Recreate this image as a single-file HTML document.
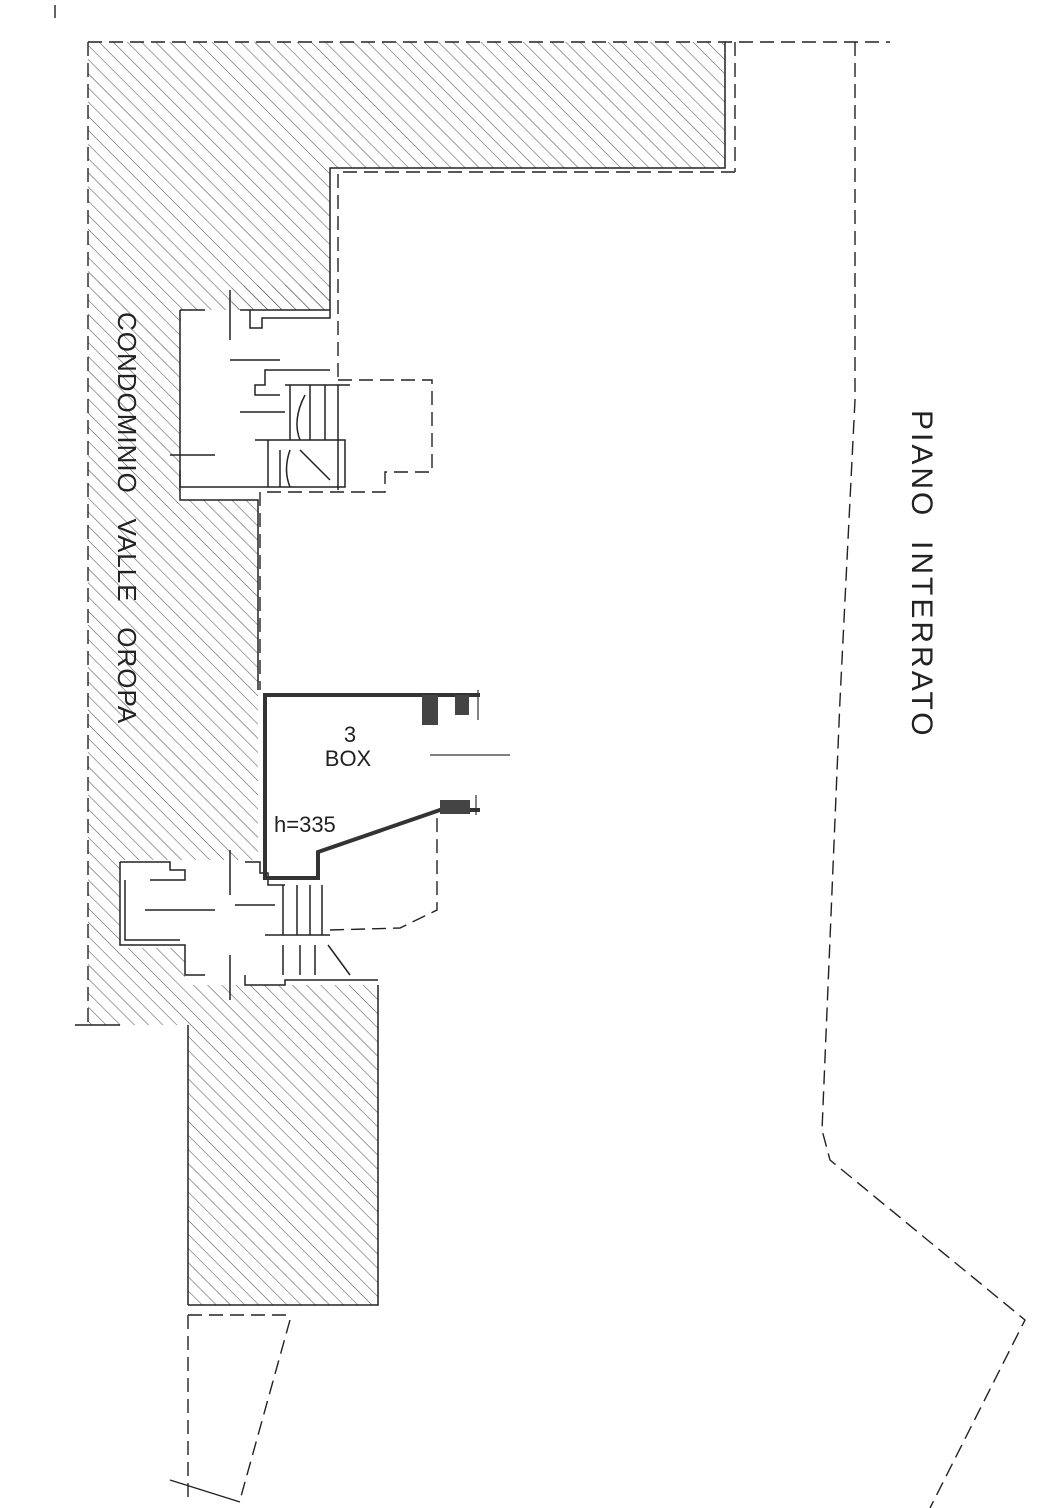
<!DOCTYPE html>
<html><head><meta charset="utf-8"><style>html,body{margin:0;padding:0;background:#fff}svg{display:block}</style></head><body>
<svg width="1064" height="1508" viewBox="0 0 1064 1508" xmlns="http://www.w3.org/2000/svg">
<defs>
<pattern id="h" width="10" height="10" patternUnits="userSpaceOnUse" patternTransform="rotate(-45)">
<line x1="0" y1="0" x2="0" y2="10" stroke="#555" stroke-width="1.1"/>
</pattern>
</defs>
<g fill="url(#h)" stroke="none">
<polygon points="88,42 725,42 725,168 330,168 330,310 180,310 180,500 258,500 258,860 120,860 120,1025 88,1025"/>
<polygon points="120,948 185,948 185,985 378,985 378,1305 188,1305 188,1025 120,1025"/>
<polygon points="232,285 330,285 330,310 232,310"/>
</g>
<g fill="none" stroke="#222" stroke-width="1.5">
<polyline points="725,42 725,168 330,168 330,310"/>
<polyline points="378,985 378,1305 188,1305"/>
<line x1="188" y1="1305" x2="188" y2="1025"/>
<polyline points="180,310 180,500 258,500 258,690"/>
<polyline points="180,310 205,310"/>
<polyline points="240,310 330,310 330,318 262,318 262,328 250,328 250,310"/>
<line x1="230" y1="290" x2="230" y2="340"/>
<line x1="230" y1="360" x2="280" y2="360"/>
<polyline points="330,370 265,370 265,385 255,385 255,395 280,395"/>
<polyline points="285,385 350,385"/>
<line x1="290" y1="385" x2="290" y2="440"/>
<line x1="310" y1="385" x2="310" y2="440"/>
<line x1="325" y1="385" x2="325" y2="440"/>
<line x1="338" y1="385" x2="338" y2="490"/>
<line x1="240" y1="412" x2="285" y2="412"/>
<polyline points="255,440 345,440 345,487 270,487"/>
<line x1="268" y1="440" x2="268" y2="487"/>
<line x1="280" y1="450" x2="280" y2="487"/>
<line x1="170" y1="455" x2="215" y2="455"/>
<polyline points="180,470 180,487 270,487"/>
<path d="M305,395 Q292,420 300,440 M290,450 Q283,470 290,487"/>
<line x1="300" y1="450" x2="330" y2="480"/>
<polyline points="120,862 170,862 170,870 185,870 185,880 150,880"/>
<polyline points="120,862 120,945 185,945 185,975 205,975"/>
<line x1="145" y1="910" x2="215" y2="910"/>
<line x1="235" y1="905" x2="275" y2="905"/>
<line x1="230" y1="850" x2="230" y2="895"/>
<line x1="230" y1="955" x2="230" y2="1000"/>
<polyline points="125,880 125,940 180,940"/>
<polyline points="245,862 260,862 260,873 268,873 268,885 285,885"/>
<line x1="283" y1="885" x2="283" y2="935"/>
<line x1="297" y1="885" x2="297" y2="935"/>
<line x1="310" y1="885" x2="310" y2="935"/>
<line x1="322" y1="885" x2="322" y2="935"/>
<polyline points="265,935 330,935"/>
<line x1="283" y1="945" x2="283" y2="975"/>
<line x1="300" y1="945" x2="300" y2="975"/>
<line x1="315" y1="945" x2="315" y2="975"/>
<polyline points="245,975 245,985 285,985 285,980 378,980"/>
<line x1="328" y1="945" x2="350" y2="975"/>
</g>
<g fill="none" stroke="#333" stroke-width="4">
<polyline points="480,695 265,695 265,878 318,878 318,852 440,810 480,810"/>
</g>
<rect x="422" y="695" width="16" height="30" fill="#444"/>
<rect x="455" y="695" width="14" height="20" fill="#444"/>
<rect x="440" y="800" width="30" height="14" fill="#444"/>
<line x1="430" y1="755" x2="510" y2="755" stroke="#333" stroke-width="1.2"/>
<line x1="478" y1="690" x2="478" y2="720" stroke="#333" stroke-width="1.2"/>
<line x1="476" y1="795" x2="476" y2="815" stroke="#333" stroke-width="1.2"/>
<g fill="none" stroke="#222" stroke-width="1.4" stroke-dasharray="14,7">
<line x1="88" y1="42" x2="890" y2="42"/>
<line x1="88" y1="42" x2="88" y2="1025"/>
<line x1="735" y1="42" x2="735" y2="172"/>
<polyline points="735,172 338,172 338,380"/>
<polyline points="338,380 432,380 432,472 385,472 385,492 260,492 260,690"/>
<polyline points="330,930 400,928 437,910 437,815"/>
<polyline points="855,42 855,400 840,700 822,1130 830,1160 1025,1320 930,1508"/>
<line x1="188" y1="1315" x2="188" y2="1500"/>
<line x1="290" y1="1320" x2="240" y2="1500"/>
<line x1="188" y1="1315" x2="290" y2="1315"/>
</g>
<line x1="75" y1="1025" x2="120" y2="1025" stroke="#222" stroke-width="1.4"/>
<line x1="170" y1="1480" x2="240" y2="1502" stroke="#222" stroke-width="1.4"/>
<line x1="55" y1="5" x2="55" y2="18" stroke="#222" stroke-width="1.4"/>
<g font-family="Liberation Sans, sans-serif" fill="#222">
<text x="0" y="0" font-size="26" transform="translate(118,312) rotate(90)" letter-spacing="1">CONDOMINIO &#160; VALLE &#160; OROPA</text>
<text x="0" y="0" font-size="30" transform="translate(912,410) rotate(90)" letter-spacing="3">PIANO &#160;INTERRATO</text>
<text x="350" y="742" font-size="22" text-anchor="middle">3</text>
<text x="348" y="766" font-size="22" text-anchor="middle">BOX</text>
<text x="274" y="832" font-size="22">h=335</text>
</g>
</svg>
</body></html>
